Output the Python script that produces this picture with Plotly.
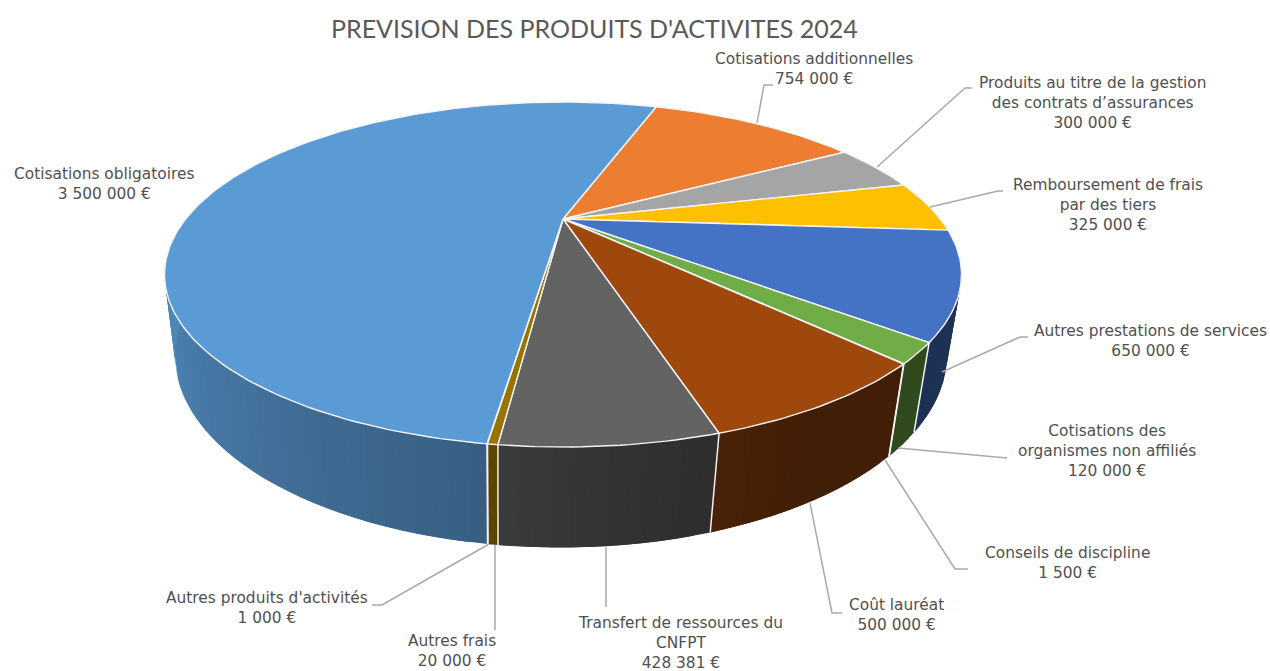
import numpy as np
import plotly.graph_objects as go

TITLE = "PREVISION DES PRODUITS D'ACTIVITES 2024"
# Chart data, in drawing order clockwise from the first slice
categories = [
    "Cotisations additionnelles",
    "Produits au titre de la gestion<br>des contrats d’assurances",
    "Remboursement de frais<br>par des tiers",
    "Autres prestations de services",
    "Cotisations des<br>organismes non affiliés",
    "Conseils de discipline",
    "Coût lauréat",
    "Transfert de ressources du<br>CNFPT",
    "Autres frais",
    "Autres produits d'activités",
    "Cotisations obligatoires",
]
values = [754000, 300000, 325000, 650000, 120000, 1500, 500000, 428381, 20000, 1000, 3500000]
colors = ["#ed7d31", "#a5a5a5", "#ffc000", "#4472c4", "#70ad47", "#255e91",
          "#9e480e", "#636363", "#997300", "#264478", "#5b9bd5"]

# Layout: label centres (x, first-line y) and leader-line paths, in canvas pixels
label_pos = [(814, 59), (1092, 83), (1108, 185), (1150, 331), (1107, 431), (1067, 553),
             (896, 605), (680, 623), (452, 641), (267, 598), (104, 174)]
leaders = [
    [(757, 123), (764, 85), (773, 85)],
    [(877, 167), (965, 88), (972, 88)],
    [(930, 207), (998, 191), (1003, 191)],
    [(942, 372), (1020, 337), (1028, 337)],
    [(898, 448), (1007, 458)],
    [(885, 460), (955, 569), (968, 569)],
    [(810, 503), (832, 613), (842, 613)],
    [(606, 547), (606, 607)],
    [(495, 545), (495, 630)],
    [(489, 544), (382, 605), (372, 605)],
]

# Perspective of the pie
FIRST_ANGLE = 18.8
CX, CY = 563.0, 219.0
K, A, C = 377.3, 84.2, -0.3217
VX, VY, H = 500.0, 2900.0, 0.029
WALL_START, WALL_END = 60.0, 300.0
shade_angles = [60, 100, 130, 150, 172, 190, 220, 255, 290]
shade_levels = [.45, .45, .43, .41, .50, .62, .74, .87, .90]


def project(theta_deg, r=1.0, depth=0.0):
    t = np.radians(theta_deg)
    x, y = r * np.sin(t), -r * np.cos(t)
    w = 1 + C * y
    px = CX * w + K * x + depth * VX
    py = A * y + CY + depth * VY
    return px / (w + depth), py / (w + depth)


def shaded(hex_color, f):
    rgb = [int(hex_color[i:i + 2], 16) for i in (1, 3, 5)]
    return "rgb(%d,%d,%d)" % tuple(int(round(c * f)) for c in rgb)


total = sum(values)
edges = FIRST_ANGLE + np.concatenate([[0], np.cumsum(values)]) / total * 360.0

fig = go.Figure()


def poly(xs, ys, fill, line, width):
    fig.add_trace(go.Scatter(x=xs, y=ys, mode="lines", fill="toself", fillcolor=fill,
                             line=dict(color=line, width=width), hoverinfo="skip",
                             showlegend=False))


def wall(a0, a1, c):
    grid = np.linspace(a0, a1, 5)
    x0, y0 = project(grid)
    x1, y1 = project(grid[::-1], depth=H)
    poly(list(x0) + list(x1) + [x0[0]], list(y0) + list(y1) + [y0[0]], c, c, 0)


# Side wall: strips overlap the next one so no seam shows between them
for i, col in enumerate(colors):
    a0, a1 = max(edges[i], WALL_START), min(edges[i + 1], WALL_END)
    if a1 <= a0:
        continue
    n = max(1, int(np.ceil((a1 - a0) / 2.0)))
    grid = np.linspace(a0, a1, n + 1)
    step = grid[1] - grid[0]
    for s0 in grid[:-1]:
        f = float(np.interp(s0 + step / 2, shade_angles, shade_levels))
        wall(s0, min(s0 + 2 * step, a1), shaded(col, f))

# White seams between wall pieces
for e in edges[:-1]:
    a = e % 360
    if WALL_START <= a <= WALL_END:
        x0, y0 = project(a)
        x1, y1 = project(a, depth=H)
        fig.add_trace(go.Scatter(x=[x0, x1], y=[y0, y1], mode="lines",
                                 line=dict(color="#f2f2f2", width=1.5),
                                 hoverinfo="skip", showlegend=False))

# Top face
for i, col in enumerate(colors):
    n = max(2, int(np.ceil((edges[i + 1] - edges[i]) / 1.0)))
    xs, ys = project(np.linspace(edges[i], edges[i + 1], n + 1))
    xs = [CX] + list(xs) + [CX]
    ys = [CY] + list(ys) + [CY]
    poly(xs, ys, col, "#f4f4f4", 1.4)

# Leader lines
for path in leaders:
    fig.add_trace(go.Scatter(x=[p[0] for p in path], y=[p[1] for p in path], mode="lines",
                             line=dict(color="#a9a9a9", width=1.5),
                             hoverinfo="skip", showlegend=False))


def money(v):
    return f"{v:,}".replace(",", " ") + " €"


annots = []
for name, v, (lx, ly) in zip(categories, values, label_pos):
    annots.append(dict(x=lx, y=ly - 11, xref="x", yref="y", xanchor="center", yanchor="top",
                       text=name + "<br>" + money(v), showarrow=False, align="center",
                       font=dict(family="DejaVu Sans", size=15.4, color="#505050")))
annots.append(dict(x=594, y=28, xref="x", yref="y", xanchor="center", yanchor="middle",
                   text=TITLE, showarrow=False,
                   font=dict(family="Lato", size=25, color="#595959")))

fig.update_layout(
    width=1270, height=671, margin=dict(l=0, r=0, t=0, b=0),
    paper_bgcolor="white", plot_bgcolor="white", showlegend=False,
    xaxis=dict(range=[0, 1270], visible=False, fixedrange=True),
    yaxis=dict(range=[671, 0], visible=False, fixedrange=True),
    annotations=annots,
)
fig.write_html("out.html", config={"displayModeBar": False},
               post_script="document.body.style.margin='0';document.body.style.overflow='hidden';")
